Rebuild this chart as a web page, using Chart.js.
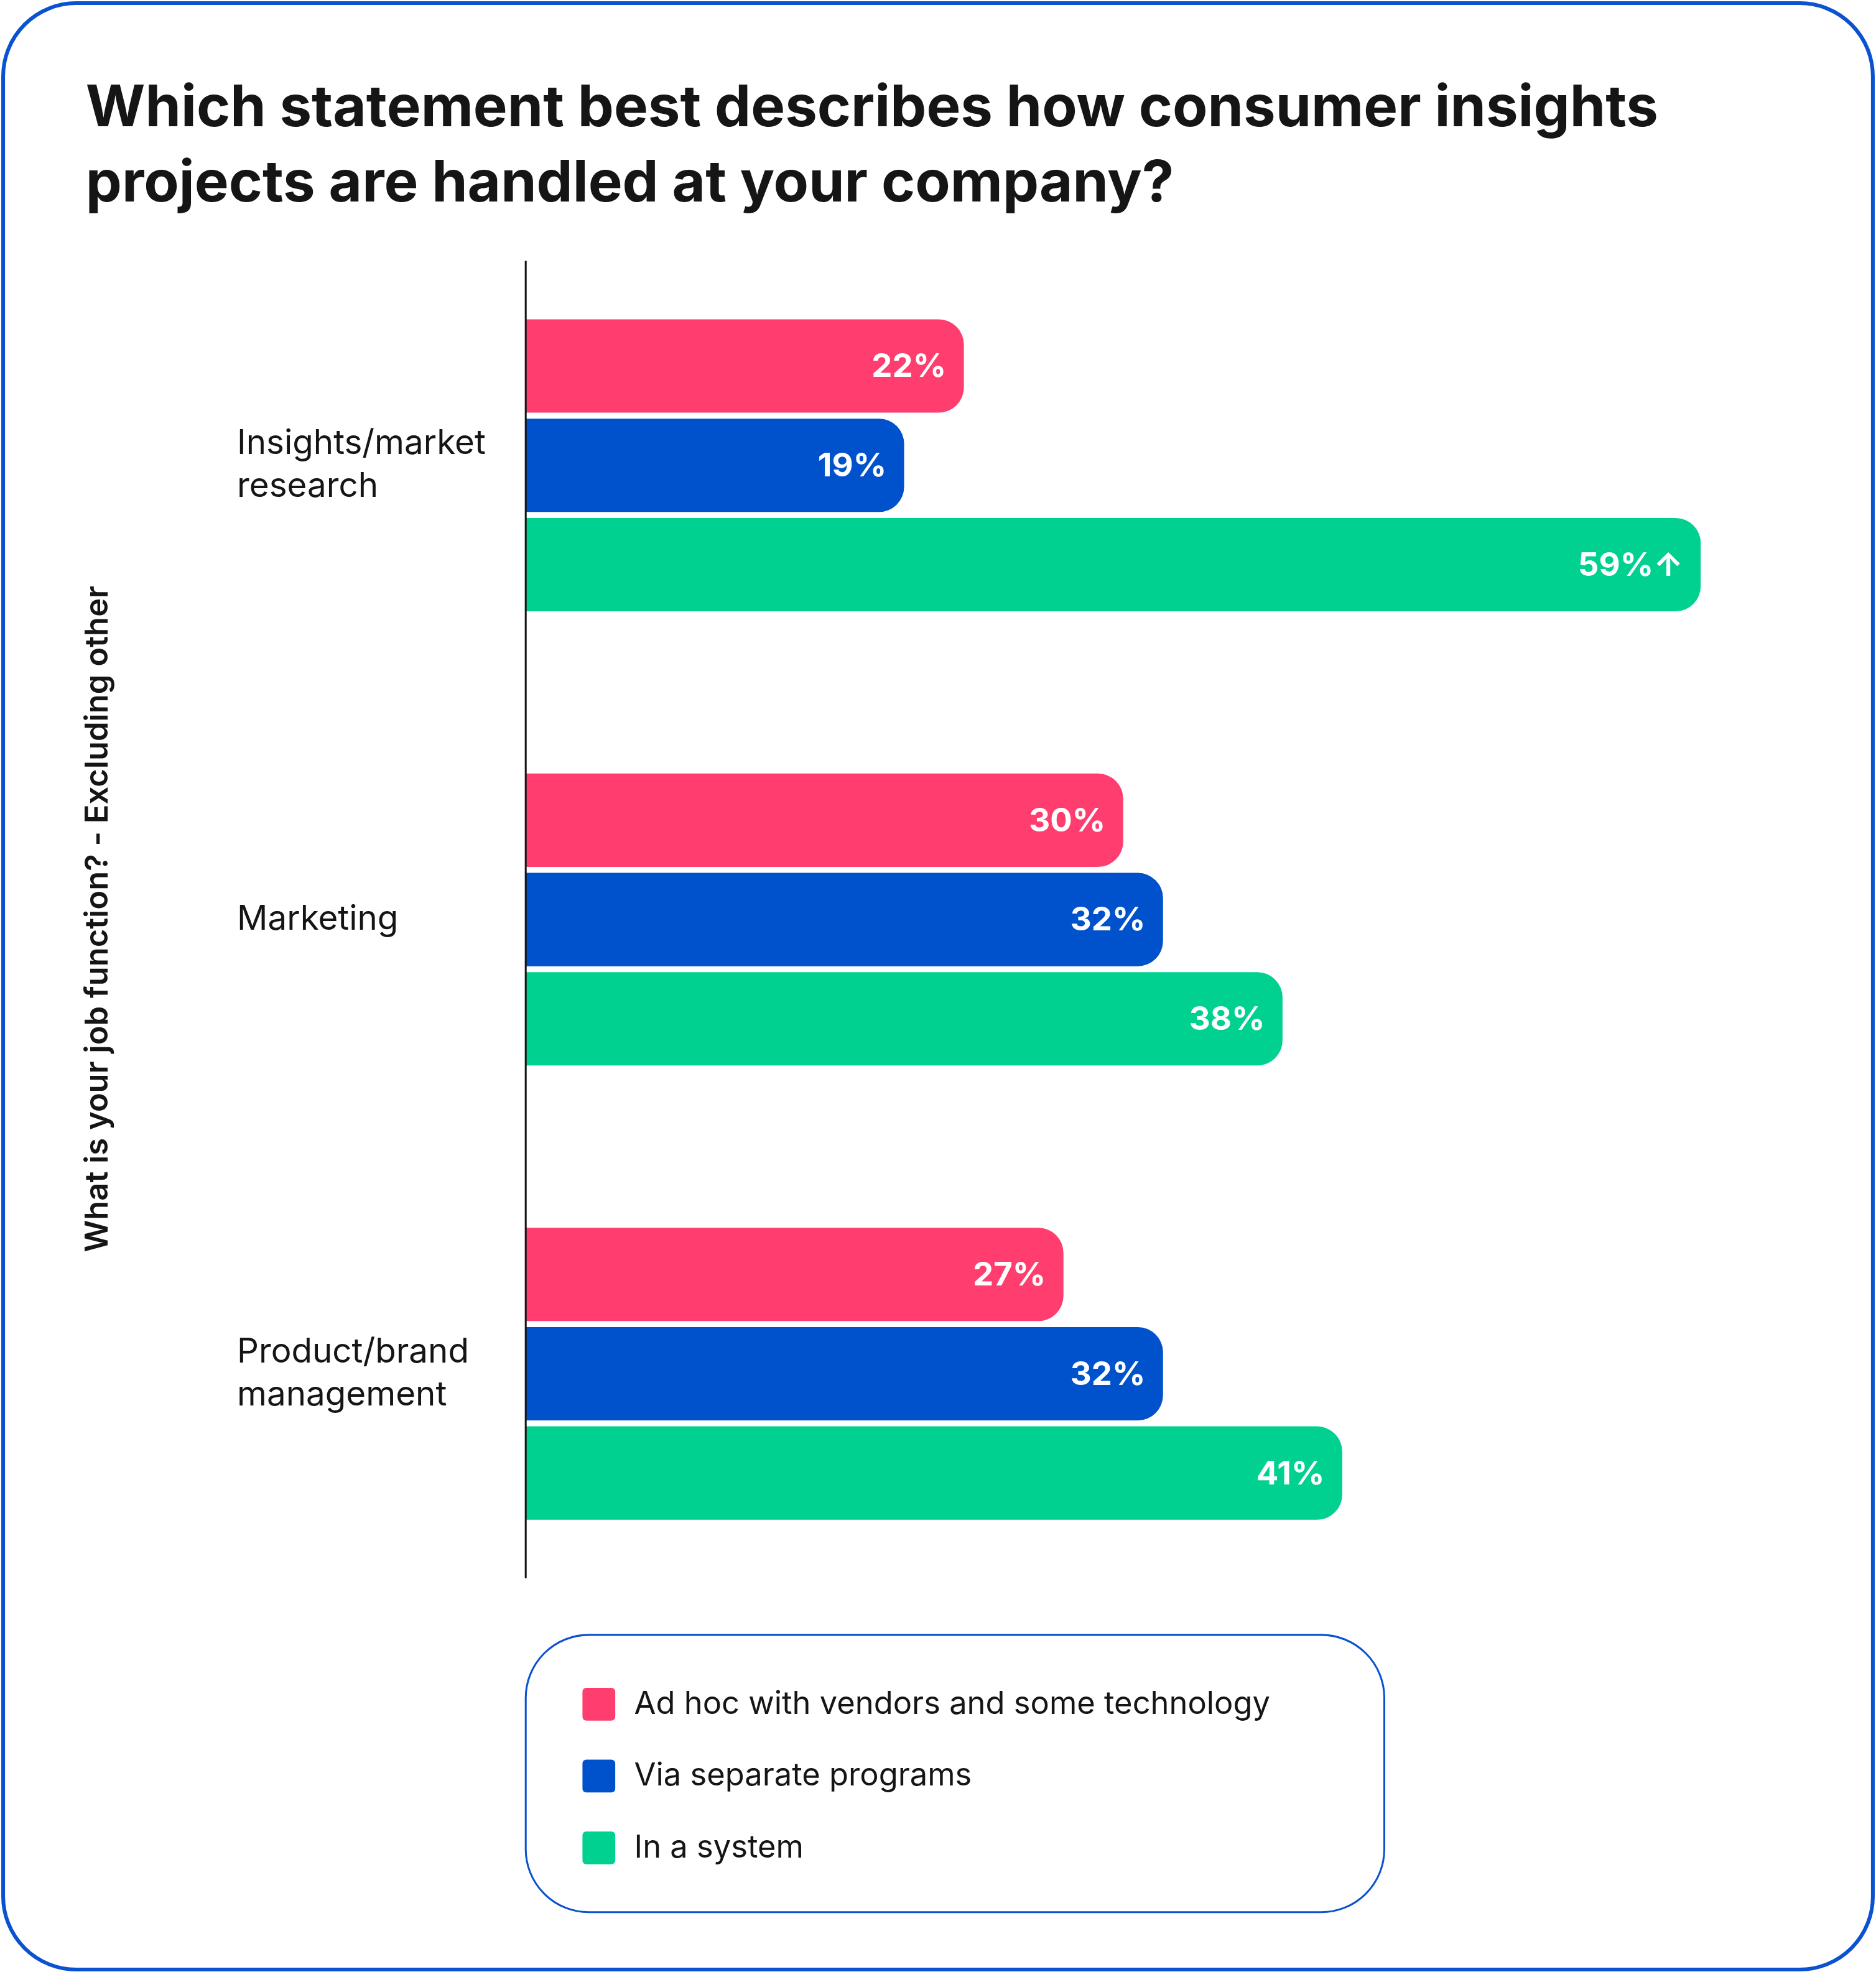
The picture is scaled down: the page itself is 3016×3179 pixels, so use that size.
<!DOCTYPE html>
<html>
<head>
<meta charset="utf-8">
<script src="https://cdn.jsdelivr.net/npm/chart.js@4/dist/chart.umd.min.js"></script>
<style>
  html, body { margin: 0; padding: 0; background: #fff; }
  #wrap { width: 3016px; height: 3179px; }
</style>
</head>
<body>
<div id="wrap"><canvas id="surveyChart"></canvas></div>
<script>
const titleLines = ['Which statement best describes how consumer insights', 'projects are handled at your company?'];
const axisTitle = 'What is your job function? - Excluding other';
const categories = [['Insights/market', 'research'], ['Marketing'], ['Product/brand', 'management']];
const seriesNames = ['Ad hoc with vendors and some technology', 'Via separate programs', 'In a system'];
const adHoc = [22, 30, 27];
const separate = [19, 32, 32];
const system = [59, 38, 41];
const flagged = [[false, false, false], [false, false, false], [true, false, false]];
const colors = ['#ff3d6e', '#0052cc', '#00d090'];

const ctx = document.getElementById('surveyChart');
const FONT = 'Inter, "Noto Sans", sans-serif';
// layout was measured on a 1488px wide copy; S scales it to the real page
const S = 3016 / 1488;
const p = v => v * S;
const font = (w, size) => w + ' ' + (size * S) + 'px ' + FONT;

function roundRect(c, x, y, w, h, r) {
    c.beginPath();
    c.moveTo(x + r, y);
    c.arcTo(x + w, y, x + w, y + h, r);
    c.arcTo(x + w, y + h, x, y + h, r);
    c.arcTo(x, y + h, x, y, r);
    c.arcTo(x, y, x + w, y, r);
    c.closePath();
}

const decor = {
    id: 'decor',
    beforeDraw(chart) {
        const c = chart.ctx;
        c.save();
        c.fillStyle = '#fff';
        c.fillRect(0, 0, chart.width, chart.height);
        c.strokeStyle = '#0a52d0';
        c.lineWidth = p(3);
        roundRect(c, p(2.5), p(2.5), p(1483), p(1560), p(58));
        c.stroke();
        c.restore();
    },
    afterDraw(chart) {
        const c = chart.ctx;
        const y = chart.scales.y;
        const area = chart.chartArea;
        c.save();
        // title
        c.fillStyle = '#151515';
        c.font = font('bold', 45.5);
        c.textBaseline = 'alphabetic';
        c.textAlign = 'left';
        titleLines.forEach((t, i) => c.fillText(t, p(68), p(100 + i * 60)));
        // axis line
        c.strokeStyle = '#151515';
        c.lineWidth = p(1.5);
        c.beginPath();
        c.moveTo(area.left, p(207));
        c.lineTo(area.left, p(1252));
        c.stroke();
        // category labels
        c.font = font('', 27);
        c.textBaseline = 'middle';
        categories.forEach((lines, i) => {
            const cy = y.getPixelForTick(i);
            lines.forEach((l, j) => c.fillText(l, p(188), cy + p((j - (lines.length - 1) / 2) * 34)));
        });
        // axis title
        c.save();
        c.translate(p(78), p(729));
        c.rotate(-Math.PI / 2);
        c.textAlign = 'center';
        c.font = font('600', 25);
        c.fillText(axisTitle, 0, 0);
        c.restore();
        // value labels
        c.fillStyle = '#fff';
        c.font = font('bold', 26);
        c.textAlign = 'right';
        chart.data.datasets.forEach((ds, di) => {
            chart.getDatasetMeta(di).data.forEach((bar, i) => {
                const txt = ds.data[i] + '%' + (flagged[di][i] ? '\u2191' : '');
                c.fillText(txt, bar.x - p(14), bar.y + p(1));
            });
        });
        // legend box
        c.strokeStyle = '#0a52d0';
        c.lineWidth = p(1.5);
        roundRect(c, p(417), p(1297), p(681), p(220), p(50));
        c.stroke();
        c.textAlign = 'left';
        c.font = font('', 25);
        seriesNames.forEach((n, i) => {
            const ly = p(1352 + i * 57);
            c.fillStyle = colors[i];
            roundRect(c, p(462), ly - p(13), p(26), p(26), p(3));
            c.fill();
            c.fillStyle = '#151515';
            c.fillText(n, p(503), ly);
        });
        c.restore();
    }
};

new Chart(ctx, {
    type: 'bar',
    data: {
        labels: categories.map(l => l.join(' ')),
        datasets: [adHoc, separate, system].map((d, i) => ({
            label: seriesNames[i],
            data: d,
            backgroundColor: colors[i],
            borderRadius: p(20),
            borderSkipped: 'start',
            categoryPercentage: 0.656,
            barPercentage: 0.94
        }))
    },
    options: {
        indexAxis: 'y',
        responsive: true,
        maintainAspectRatio: false,
        animation: false,
        devicePixelRatio: 1,
        layout: { padding: { left: p(417), top: p(189), bottom: 3179 - p(1270), right: 3016 - p(1349) } },
        scales: {
            x: { min: 0, max: 59, display: false },
            y: { display: false }
        },
        plugins: { legend: { display: false }, tooltip: { enabled: false } }
    },
    plugins: [decor]
});
</script>
</body>
</html>
